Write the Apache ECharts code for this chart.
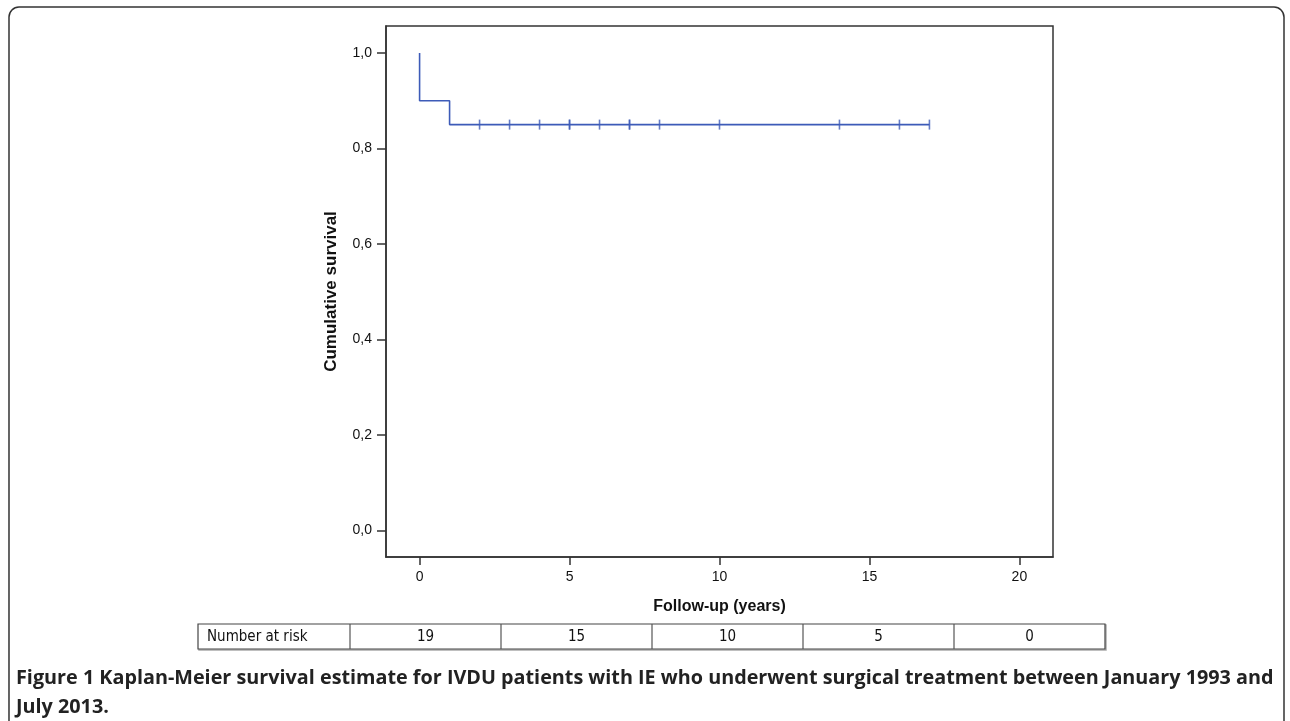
<!DOCTYPE html>
<html>
<head>
<meta charset="utf-8">
<script src="https://cdn.jsdelivr.net/npm/echarts@6/dist/echarts.min.js"></script>
<style>
html,body{margin:0;padding:0;background:#fff;}
#chart{width:1290px;height:721px;}
</style>
</head>
<body>
<div id="chart"></div>
<script>
// Kaplan-Meier step curve (time in years, cumulative survival)
var stepTimes = [0, 0, 1, 17];
var stepSurv = [1.0, 0.9, 0.85, 0.85];
// Censored observations
var censorTimes = [2, 3, 4, 5, 5, 6, 7, 7, 8, 10, 14, 16, 17];
var censorSurv = [0.85, 0.85, 0.85, 0.85, 0.85, 0.85, 0.85, 0.85, 0.85, 0.85, 0.85, 0.85, 0.85];
// Axis ticks
var xTicks = [0, 5, 10, 15, 20];
var yTicks = [0, 0.2, 0.4, 0.6, 0.8, 1.0];
// Number at risk table
var riskLabel = 'Number at risk';
var riskCounts = [19, 15, 10, 5, 0];
var xTitle = 'Follow-up (years)';
var yTitle = 'Cumulative survival';
var captionBold = 'Figure 1';
var captionLine1 = ' Kaplan-Meier survival estimate for IVDU patients with IE who underwent surgical treatment between January 1993 and';
var captionLine2 = 'July 2013.';

var chart = echarts.init(document.getElementById('chart'), null, {renderer: 'canvas'});

var lineData = stepTimes.map(function (t, i) { return [t, stepSurv[i]]; });
var censorData = censorTimes.map(function (t, i) { return [t, censorSurv[i]]; });

var curveColor = '#3d5bb8';
var axisColor = '#333';
var tableFont = '15px "DejaVu Sans Condensed", "DejaVu Sans", sans-serif';

// table geometry
var tblLeft = 198, tblTop = 624, tblH = 25, firstW = 152, cellW = 151;
var graphics = [];
// outer frame of figure
graphics.push({type: 'rect', shape: {x: 9, y: 7, width: 1275, height: 740, r: 10},
  style: {fill: null, stroke: '#333', lineWidth: 1.5}, silent: true});
// table
var tblW = firstW + cellW * riskCounts.length;
graphics.push({type: 'rect', shape: {x: tblLeft + 1, y: tblTop + 1, width: tblW, height: tblH},
  style: {fill: null, stroke: '#aaa', lineWidth: 1.5}, silent: true});
graphics.push({type: 'rect', shape: {x: tblLeft, y: tblTop, width: tblW, height: tblH},
  style: {fill: '#fff', stroke: '#444', lineWidth: 1.2}, silent: true});
graphics.push({type: 'text', x: tblLeft + 9, y: tblTop + tblH / 2 + 1,
  style: {text: riskLabel, font: tableFont, fill: '#111', verticalAlign: 'middle', align: 'left'}});
riskCounts.forEach(function (c, i) {
  var x0 = tblLeft + firstW + cellW * i;
  graphics.push({type: 'line', shape: {x1: x0, y1: tblTop, x2: x0, y2: tblTop + tblH},
    style: {stroke: '#555', lineWidth: 1.2}, silent: true});
  graphics.push({type: 'text', x: x0 + cellW / 2, y: tblTop + tblH / 2 + 1,
    style: {text: String(c), font: tableFont, fill: '#111', verticalAlign: 'middle', align: 'center'}});
});
// caption
graphics.push({type: 'text', x: 16, y: 664,
  style: {rich: {b: {font: 'bold 19.8px "Open Sans", sans-serif', fill: '#222', lineHeight: 29},
                 n: {font: 'bold 19.8px "Open Sans", sans-serif', fill: '#222', lineHeight: 29}},
          text: '{b|' + captionBold + '}{n|' + captionLine1 + '}\n{n|' + captionLine2 + '}',
          verticalAlign: 'top', align: 'left'}});

var fmt = function (v) { return v.toFixed(1).replace('.', ','); };

chart.setOption({
  animation: false,
  backgroundColor: '#fff',
  grid: {left: 386, top: 26, right: 237, bottom: 164, show: true, borderColor: axisColor, borderWidth: 1.5, containLabel: false},
  xAxis: {
    type: 'value', min: -1.12, max: 21.12,
    name: xTitle, nameLocation: 'middle', nameGap: 42,
    nameTextStyle: {fontFamily: 'Liberation Sans, Arial, sans-serif', fontWeight: 'bold', fontSize: 16, color: '#111'},
    axisLine: {show: true, onZero: false, lineStyle: {color: axisColor, width: 1.5}},
    axisTick: {show: true, inside: false, length: 8, customValues: xTicks, lineStyle: {color: axisColor, width: 1.5}},
    axisLabel: {customValues: xTicks, margin: 13, fontFamily: 'Liberation Sans, Arial, sans-serif', fontSize: 14, color: '#111'},
    splitLine: {show: false}
  },
  yAxis: {
    type: 'value', min: -0.056, max: 1.0566,
    name: yTitle, nameLocation: 'middle', nameGap: 46, nameRotate: 90,
    nameTextStyle: {fontFamily: 'Liberation Sans, Arial, sans-serif', fontWeight: 'bold', fontSize: 17, color: '#111'},
    axisLine: {show: true, onZero: false, lineStyle: {color: axisColor, width: 1.5}},
    axisTick: {show: true, inside: false, length: 9, customValues: yTicks, lineStyle: {color: axisColor, width: 1.5}},
    axisLabel: {customValues: yTicks, margin: 14, formatter: fmt, fontFamily: 'Liberation Sans, Arial, sans-serif', fontSize: 14, color: '#111'},
    splitLine: {show: false}
  },
  series: [
    {type: 'line', data: lineData, step: 'end', showSymbol: false, symbol: 'none',
     lineStyle: {color: curveColor, width: 1.6}, silent: true},
    {type: 'scatter', data: censorData, symbol: 'rect', symbolSize: [1.6, 10],
     itemStyle: {color: curveColor}, silent: true}
  ],
  graphic: graphics
});
</script>
</body>
</html>
